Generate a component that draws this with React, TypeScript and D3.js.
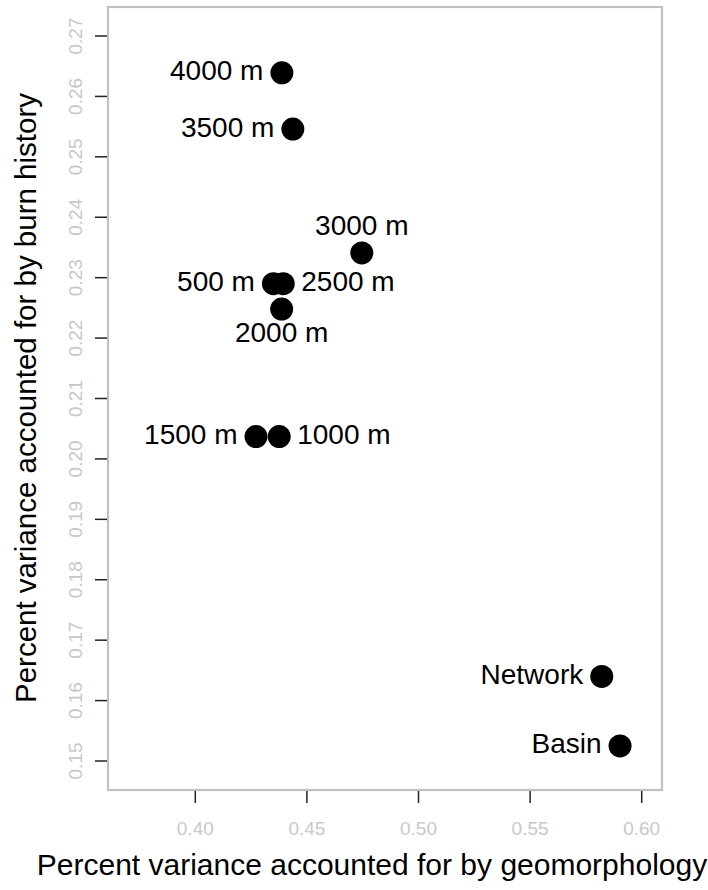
import React from "react";
import * as d3 from "d3";

const labels = ["4000 m", "3500 m", "3000 m", "500 m", "2500 m", "2000 m", "1500 m", "1000 m", "Network", "Basin"];
const geomorphology = [0.4388, 0.4437, 0.4746, 0.4350, 0.4394, 0.4387, 0.4272, 0.4376, 0.5821, 0.5903];
const burnHistory = [0.2639, 0.2546, 0.2341, 0.2290, 0.2290, 0.2248, 0.2037, 0.2037, 0.1640, 0.1525];
const labelSide = ["left", "left", "above", "left", "right", "below", "left", "right", "left", "left"];
const xTicks = [0.40, 0.45, 0.50, 0.55, 0.60];
const yTicks = [0.15, 0.16, 0.17, 0.18, 0.19, 0.20, 0.21, 0.22, 0.23, 0.24, 0.25, 0.26, 0.27];

const W = 708, H = 890;
const box = { left: 108, right: 662, top: 7, bottom: 790 };
const FONT = "'Liberation Sans', Arial, Helvetica, sans-serif";

export default function App() {
  const x = d3.scaleLinear().domain([0.36089, 0.60909]).range([box.left, box.right]);
  const y = d3.scaleLinear().domain([0.1452, 0.2748]).range([box.bottom, box.top]);
  const fmtX = d3.format(".2f");
  const fmtY = d3.format(".2f");
  return (
    <svg width={W} height={H} style={{ position: "absolute", left: 0, top: 0, background: "#fff" }} fontFamily={FONT}>
      <rect x={box.left} y={box.top} width={box.right - box.left} height={box.bottom - box.top} fill="none" stroke="#c0c0c0" strokeWidth={2.2} />
      {xTicks.map((t) => (
        <g key={"x" + t}>
          <line x1={x(t)} x2={x(t)} y1={box.bottom + 1} y2={box.bottom + 13} stroke="#222" strokeWidth={1.5} />
          <text x={x(t)} y={835} textAnchor="middle" fontSize={19} fill="#c8c8c8">{fmtX(t)}</text>
        </g>
      ))}
      {yTicks.map((t) => (
        <g key={"y" + t}>
          <line x1={box.left - 1} x2={box.left - 13} y1={y(t)} y2={y(t)} stroke="#222" strokeWidth={1.5} />
          <text transform={`translate(82,${y(t)}) rotate(-90)`} textAnchor="middle" fontSize={19} fill="#c8c8c8">{fmtY(t)}</text>
        </g>
      ))}
      <text x={372} y={875} textAnchor="middle" fontSize={30} fill="#000">Percent variance accounted for by geomorphology</text>
      <text transform={`translate(36,398) rotate(-90)`} textAnchor="middle" fontSize={29.5} fill="#000">Percent variance accounted for by burn history</text>
      {labels.map((lab, i) => {
        const cx = x(geomorphology[i]);
        const cy = y(burnHistory[i]);
        const side = labelSide[i];
        let tx = cx, ty = cy + 7.5, anchor = "middle";
        if (side === "left") { tx = cx - 18.5; anchor = "end"; }
        else if (side === "right") { tx = cx + 18; anchor = "start"; }
        else if (side === "above") { ty = cy - 17.7; }
        else if (side === "below") { ty = cy + 32.7; }
        return (
          <g key={lab}>
            <circle cx={cx} cy={cy} r={11.5} fill="#000" />
            <text x={tx} y={ty} textAnchor={anchor} fontSize={28} fill="#000">{lab}</text>
          </g>
        );
      })}
    </svg>
  );
}
